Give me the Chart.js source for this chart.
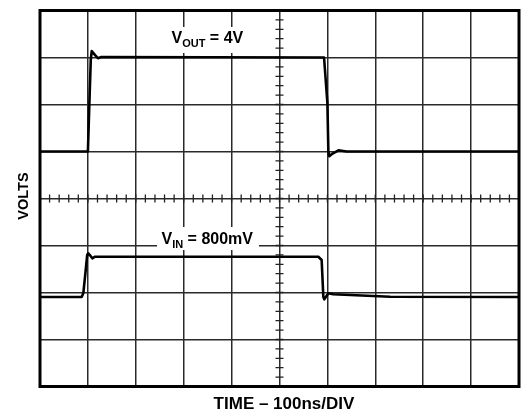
<!DOCTYPE html>
<html><head><meta charset="utf-8">
<script src="https://cdn.jsdelivr.net/npm/chart.js"></script>
<style>html,body{margin:0;padding:0;background:#fff;}</style>
</head><body>
<canvas id="c" width="522" height="415"></canvas>
<script>
// time in ns (100 ns/div), output volts (2 V/div), input volts
const voutTime  = [0, 100, 103, 106, 108, 115, 121, 128, 593, 600, 602, 604, 610, 623, 640, 1000];
const voutVolts = [0, 0, 2.0, 3.9, 4.27, 4.1, 3.97, 4.02, 4.0, 2.07, 0, -0.2, -0.1, 0.05, 0.0, 0];
const vinTime   = [0, 87, 90.4, 95, 98.5, 100.8, 104, 109.2, 115, 581, 588, 591.5, 593.5, 602, 612, 731, 1000];
const vinVolts  = [0, 0, 0.074, 0.5, 0.84, 0.874, 0.84, 0.774, 0.806, 0.806, 0.74, 0.006, -0.046, 0.074, 0.054, 0.006, 0];
const xTitle = 'TIME – 100ns/DIV';
const yTitle = 'VOLTS';
const labels = [
  {main: 'V', sub: 'OUT', rest: ' = 4V', x: 171.5, y: 43, box: [162, 27, 96, 26]},
  {main: 'V', sub: 'IN', rest: ' = 800mV', x: 161.5, y: 244, box: [157, 227, 102, 23]}
];

const toPts = (t, v) => t.map((tt, i) => ({x: tt, y: v[i]}));

const decor = {
  id: 'decor',
  beforeDatasetsDraw(chart) {
    const ctx = chart.ctx, xs = chart.scales.x, ys = chart.scales.y;
    const x0 = xs.getPixelForValue(500), y0 = ys.getPixelForValue(-2);
    ctx.save();
    ctx.strokeStyle = '#222';
    ctx.lineWidth = 1.3;
    ctx.beginPath();
    for (let t = 0; t <= 1000; t += 20) {
      const x = xs.getPixelForValue(t);
      ctx.moveTo(x, y0 - 4); ctx.lineTo(x, y0 + 4);
    }
    for (let v = -10; v <= 6; v += 0.4) {
      const y = ys.getPixelForValue(v);
      ctx.moveTo(x0 - 4, y); ctx.lineTo(x0 + 4, y);
    }
    ctx.stroke();
    // label boxes
    ctx.fillStyle = '#fff';
    labels.forEach(l => ctx.fillRect(l.box[0], l.box[1], l.box[2], l.box[3]));
    ctx.restore();
  },
  afterDatasetsDraw(chart) {
    const ctx = chart.ctx, a = chart.chartArea;
    ctx.save();
    ctx.strokeStyle = '#000';
    ctx.lineWidth = 3;
    ctx.strokeRect(a.left, a.top, a.right - a.left, a.bottom - a.top);
    ctx.fillStyle = '#000';
    ctx.textBaseline = 'alphabetic';
    labels.forEach(l => {
      let x = l.x;
      ctx.font = 'bold 16px "Liberation Sans", Arial, sans-serif';
      ctx.fillText(l.main, x, l.y); x += ctx.measureText(l.main).width;
      ctx.font = 'bold 11px "Liberation Sans", Arial, sans-serif';
      ctx.fillText(l.sub, x, l.y + 3.5); x += ctx.measureText(l.sub).width;
      ctx.font = 'bold 16px "Liberation Sans", Arial, sans-serif';
      ctx.fillText(l.rest, x, l.y);
    });
    ctx.textAlign = 'center';
    ctx.textBaseline = 'middle';
    ctx.font = 'bold 17px "Liberation Sans", Arial, sans-serif';
    ctx.fillText(xTitle, 284, 404);
    ctx.translate(24, 196);
    ctx.rotate(-Math.PI / 2);
    ctx.font = 'bold 14.5px "Liberation Sans", Arial, sans-serif';
    ctx.fillText(yTitle, 0, 0);
    ctx.restore();
  }
};

new Chart(document.getElementById('c'), {
  type: 'line',
  data: {
    datasets: [
      {label: 'VOUT', data: toPts(voutTime, voutVolts), yAxisID: 'y'},
      {label: 'VIN', data: toPts(vinTime, vinVolts), yAxisID: 'y2'}
    ]
  },
  options: {
    responsive: false,
    animation: false,
    devicePixelRatio: 1,
    layout: {padding: {left: 40, right: 3, top: 10.5, bottom: 28.5}},
    elements: {
      line: {borderColor: '#000', borderWidth: 2.6, tension: 0, borderJoinStyle: 'round', borderCapStyle: 'round', fill: false},
      point: {radius: 0}
    },
    plugins: {legend: {display: false}, tooltip: {enabled: false}},
    scales: {
      x: {
        type: 'linear', min: 0, max: 1000,
        ticks: {display: false, stepSize: 100},
        grid: {color: '#2a2a2a', lineWidth: 1.5, drawTicks: false},
        border: {display: false}
      },
      y: {
        type: 'linear', min: -10, max: 6,
        ticks: {display: false, stepSize: 2},
        grid: {color: '#2a2a2a', lineWidth: 1.5, drawTicks: false},
        border: {display: false}
      },
      y2: {
        type: 'linear', display: false,
        min: -1.904 * 0.94, max: 6.096 * 0.94
      }
    }
  },
  plugins: [decor]
});
</script>
</body></html>
